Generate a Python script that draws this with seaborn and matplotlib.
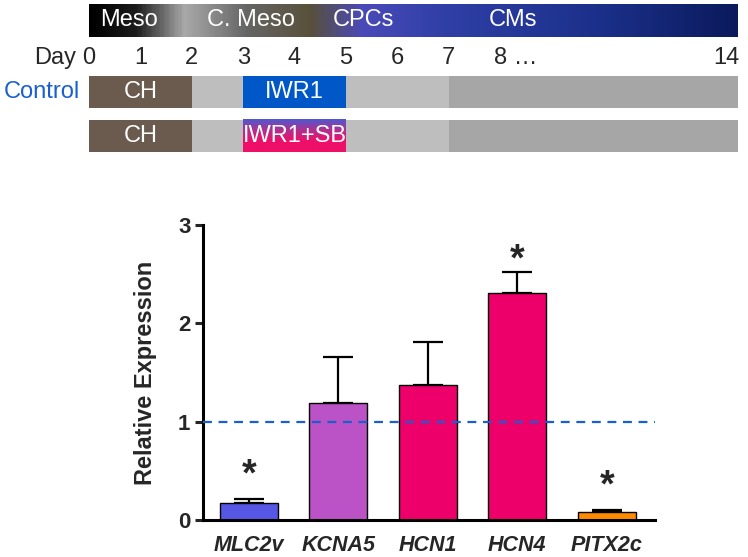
import numpy as np
import matplotlib
matplotlib.use("Agg")
import matplotlib.pyplot as plt
from matplotlib.colors import LinearSegmentedColormap
import pandas as pd
import seaborn as sns

# bar chart data
genes = ["MLC2v", "KCNA5", "HCN1", "HCN4", "PITX2c"]
expression = [0.17, 1.19, 1.37, 2.31, 0.08]
sem = [0.04, 0.47, 0.44, 0.21, 0.02]
significant = [True, False, False, True, True]
star_gap = [0.24, 0, 0, 0.12, 0.24]
bar_colors = ["#5757e6", "#bb52c6", "#ee006b", "#ee006b", "#ff8a00"]

# timeline data (days)
day_ticks = [0, 1, 2, 3, 4, 5, 6, 7, 8, 14]
stages = ["Meso", "C. Meso", "CPCs", "CMs"]
stage_days = [0.78, 3.15, 5.35, 8.25]
segments_start = [0, 2, 7]
segments_end = [2, 7, 14]
segments_color = ["#6b5a4e", "#bebebe", "#a6a6a6"]
segments_label = ["CH", "", ""]
treat_start, treat_end = 3, 5

sns.set_theme(style="white")
plt.rcParams["font.family"] = ["Liberation Sans", "DejaVu Sans"]

fig = plt.figure(figsize=(7.48, 5.57), dpi=100)
FS = 17


def day_pos(d):
    # linear up to day 8, compressed after
    d = np.asarray(d, dtype=float)
    return np.where(d <= 8, d, 8 + (d - 8) * (12.63 - 8) / 6)


# ---------- timeline ----------
tl = fig.add_axes([89 / 748, 1 - 152 / 557, 649 / 748, 148 / 557])
tl.set_xlim(0, 12.63)
tl.set_ylim(2.99, -0.375)
tl.axis("off")

y_stage, y_days, rows = 0.0, 0.85, [1.625, 2.625]
bar_h = 0.73

grad = LinearSegmentedColormap.from_list("stage", [
    (0.0, "#000000"), (0.07, "#1c1c1c"), (0.145, "#a9a9a9"), (0.24, "#666666"),
    (0.34, "#58503a"), (0.42, "#4a4ab8"), (0.55, "#2f3fa6"), (0.8, "#1a2f88"),
    (1.0, "#0b1a5c")])
tl.imshow(np.linspace(0, 1, 400)[None, :], cmap=grad, aspect="auto",
          extent=[0, 12.63, y_stage + 0.375, y_stage - 0.375], zorder=1)
for name, d in zip(stages, stage_days):
    tl.text(d, y_stage, name, color="white", fontsize=FS, ha="center", va="center", zorder=3)

for d in day_ticks:
    if d == 8:
        tl.text(day_pos(d) - 0.12, y_days, "8 \u2026", fontsize=FS, ha="left", va="center")
    elif d == 14:
        tl.text(day_pos(d) + 0.02, y_days, str(d), fontsize=FS, ha="right", va="center")
    else:
        tl.text(day_pos(d), y_days, str(d), fontsize=FS, ha="center", va="center")
tl.text(-0.25, y_days, "Day", fontsize=FS, ha="right", va="center")

for i, y in enumerate(rows):
    s = day_pos(segments_start)
    e = day_pos(segments_end)
    tl.barh([y] * 3, e - s, left=s, height=bar_h, color=segments_color, linewidth=0, zorder=1)
    for lab, a, b in zip(segments_label, s, e):
        if lab:
            tl.text((a + b) / 2, y, lab, color="white", fontsize=FS, ha="center", va="center", zorder=3)
    if i == 0:
        tl.barh(y, treat_end - treat_start, left=treat_start, height=bar_h, color="#0058c8",
                linewidth=0, zorder=2)
        tl.text((treat_start + treat_end) / 2, y, "IWR1", color="white", fontsize=FS,
                ha="center", va="center", zorder=3)
    else:
        pink = LinearSegmentedColormap.from_list("sb", ["#4e58d0", "#b0308f", "#ee0f69", "#ee0f69"])
        tl.imshow(np.linspace(0, 1, 100)[:, None], cmap=pink, aspect="auto",
                  extent=[treat_start, treat_end, y + bar_h / 2, y - bar_h / 2], zorder=2)
        tl.text((treat_start + treat_end) / 2, y, "IWR1+SB", color="white", fontsize=FS,
                ha="center", va="center", zorder=3)
tl.text(-0.17, rows[0], "Control", color="#1a5fd0", fontsize=FS, ha="right", va="center")

# ---------- bar chart ----------
ax = fig.add_axes([203 / 748, 37 / 557, 452 / 748, 295 / 557])
df = pd.DataFrame({"gene": genes, "expr": expression})
sns.barplot(data=df, x="gene", y="expr", hue="gene", palette=bar_colors, legend=False,
            width=0.65, saturation=1, edgecolor="black", linewidth=1.0, errorbar=None,
            ax=ax, zorder=2)
x = np.arange(len(genes))
ax.errorbar(x, expression, yerr=[np.zeros(len(sem)), sem], fmt="none", ecolor="black",
            elinewidth=1.6, capsize=10.8, capthick=1.6, zorder=1)
for xi, v, e, sig, g in zip(x, expression, sem, significant, star_gap):
    if sig:
        ax.text(xi, v + e + g, "*", fontsize=27, fontweight="bold", ha="center", va="center")
ax.axhline(1, color="#1a5fd0", lw=1.6, dashes=(4, 3), zorder=3)

ax.set_xlim(-0.51, 4.54)
ax.set_ylim(0, 3)
ax.set_yticks([0, 1, 2, 3])
ax.set_xlabel("")
ax.set_ylabel("Relative Expression", fontsize=17, fontweight="bold", labelpad=15)
ax.tick_params(axis="y", which="major", left=True, length=6, width=2.2, labelsize=16, pad=3)
ax.tick_params(axis="x", length=0, labelsize=15.5, pad=11)
for lab in ax.get_yticklabels():
    lab.set_fontweight("bold")
for lab in ax.get_xticklabels():
    lab.set_fontweight("bold")
    lab.set_fontstyle("italic")
sns.despine(ax=ax)
for sp in ["left", "bottom"]:
    ax.spines[sp].set_linewidth(2.2)
    ax.spines[sp].set_color("black")

fig.savefig("out.png", dpi=100)
